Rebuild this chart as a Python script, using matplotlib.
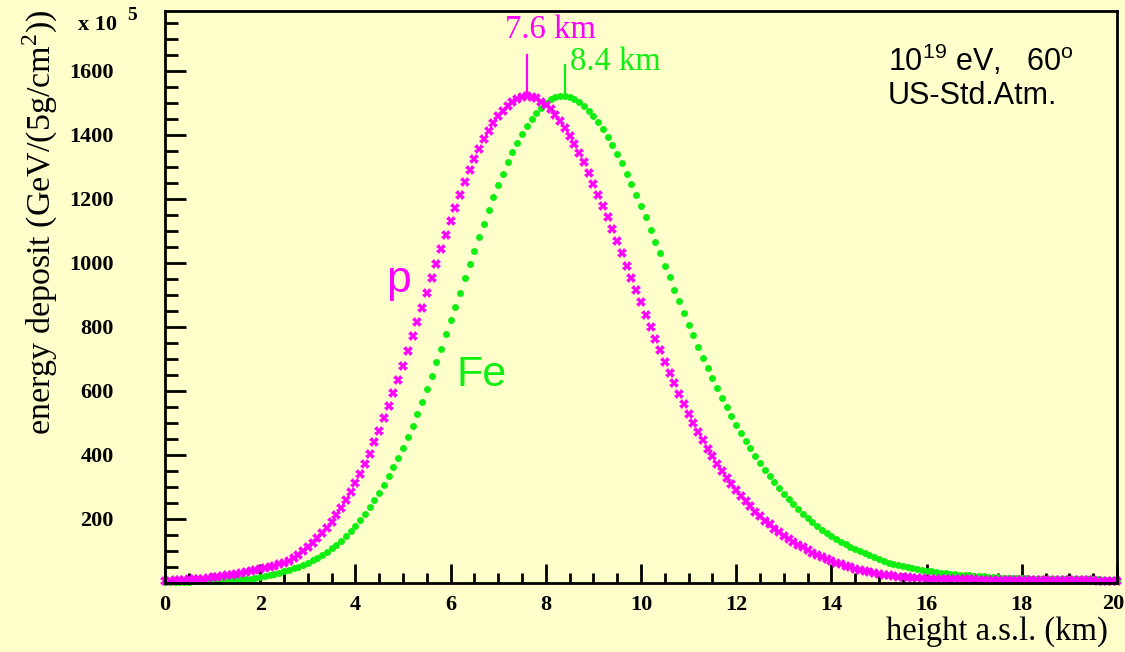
import numpy as np
import matplotlib
matplotlib.use('Agg')
import matplotlib.pyplot as plt
from matplotlib.ticker import MultipleLocator

# heights a.s.l. in km, one point every 100 m
height = np.arange(201) / 10.0

# energy deposit (x 10^5 GeV per 5 g/cm^2), proton primary
dep_p = [6, 7, 8, 9, 10, 11, 12, 13, 14, 16,
         18, 20, 22, 24, 26, 29, 31, 34, 37, 40,
         43, 46, 50, 54, 58, 63, 70, 78, 88, 99,
         111, 124, 139, 155, 172, 191, 212, 235, 259, 284,
         311, 340, 371, 404, 439, 475, 514, 553, 593, 635,
         679, 724, 770, 815, 859, 905, 952, 997, 1042, 1087,
         1131, 1172, 1213, 1251, 1289, 1323, 1355, 1385, 1412, 1436,
         1457, 1475, 1490, 1502, 1511, 1517, 1520, 1519, 1514, 1502,
         1493, 1480, 1461, 1442, 1421, 1397, 1372, 1343, 1313, 1281,
         1247, 1213, 1177, 1142, 1105, 1067, 1030, 991, 953, 915,
         877, 838, 799, 763, 726, 691, 656, 623, 591, 560,
         529, 500, 472, 445, 419, 395, 372, 350, 329, 309,
         290, 272, 255, 239, 223, 209, 195, 183, 170, 159,
         148, 138, 128, 119, 111, 103, 95, 88, 81, 75,
         69, 64, 59, 54, 49, 45, 41, 37, 34, 31,
         28, 26, 24, 22, 20, 19, 18, 17, 16, 15,
         14, 14, 13, 13, 12, 12, 12, 11, 11, 11,
         11, 10, 10, 10, 10, 10, 9, 9, 9, 9,
         9, 9, 9, 9, 8, 8, 8, 8, 8, 8,
         8, 8, 8, 8, 8, 8, 7, 7, 7, 7, 7]

# iron primary
dep_fe = [3, 3, 3, 4, 4, 4, 5, 5, 5, 6,
          6, 7, 7, 8, 9, 10, 11, 12, 14, 16,
          19, 21, 24, 27, 31, 36, 41, 46, 51, 57,
          64, 71, 79, 88, 98, 109, 120, 132, 146, 161,
          178, 196, 215, 236, 258, 281, 306, 333, 361, 391,
          423, 456, 491, 528, 566, 605, 647, 689, 732, 776,
          820, 861, 907, 951, 995, 1037, 1080, 1122, 1164, 1205,
          1242, 1278, 1313, 1345, 1375, 1402, 1426, 1448, 1467, 1483,
          1500, 1510, 1517, 1520, 1521, 1518, 1512, 1502, 1490, 1475,
          1458, 1439, 1417, 1393, 1368, 1339, 1310, 1278, 1246, 1212,
          1177, 1142, 1103, 1066, 1029, 991, 954, 915, 880, 844,
          807, 773, 737, 704, 671, 639, 608, 578, 548, 520,
          493, 468, 443, 420, 396, 375, 354, 334, 314, 296,
          278, 261, 246, 230, 217, 203, 191, 179, 167, 157,
          147, 138, 129, 121, 113, 106, 99, 93, 86, 80,
          75, 70, 64, 60, 56, 52, 49, 46, 43, 40,
          38, 36, 34, 32, 30, 29, 27, 26, 25, 24,
          23, 22, 21, 20, 19, 18, 17, 17, 16, 16,
          15, 15, 14, 14, 14, 13, 13, 13, 12, 12,
          12, 12, 11, 11, 11, 11, 11, 10, 10, 10, 10]

x_ticks = [0, 2, 4, 6, 8, 10, 12, 14, 16, 18, 20]
y_ticks = [200, 400, 600, 800, 1000, 1200, 1400, 1600]

peak_p = 7.6
peak_fe = 8.4

bg = '#ffffcc'
col_p = '#ff00ff'
col_fe = '#11ee11'
serif = 'Liberation Serif'
sans = 'Liberation Sans'

fig = plt.figure(figsize=(11.25, 6.52), dpi=100, facecolor=bg)
ax = fig.add_axes([165/1125, 1 - 583/652, (1117 - 165)/1125, (583 - 11)/652])
ax.set_facecolor(bg)

ax.plot(height, dep_fe, 'o', color=col_fe, markersize=5, markeredgewidth=0, clip_on=False)
ax.plot(height, dep_p, 'X', color=col_p, markersize=7, markeredgewidth=0, clip_on=False)

# peak markers
top_p = max(dep_p)
top_fe = max(dep_fe)
ax.plot([peak_p, peak_p], [top_p, top_p + 128], color=col_p, lw=1.6)
ax.plot([peak_fe, peak_fe], [top_fe, top_fe + 97], color=col_fe, lw=1.6)
ax.text(peak_p + 0.49, 1729, '%.1f km' % peak_p, color=col_p, family=serif,
        fontsize=23.5, ha='center', va='center')
ax.text(peak_fe + 0.1, 1626, '%.1f km' % peak_fe, color=col_fe, family=serif,
        fontsize=23.5, ha='left', va='center')

ax.text(4.9, 945, 'p', color=col_p, family=sans, fontsize=32, ha='center', va='center')
ax.text(6.65, 650, 'Fe', color=col_fe, family=sans, fontsize=31, ha='center', va='center')

ax.text(15.19, 1632, r'10$^{\mathregular{19}}$ eV,   60$^{\mathregular{o}}$', family=sans,
        fontsize=22, ha='left', va='center')
ax.text(15.19, 1522, 'US-Std.Atm.', family=sans, fontsize=22, ha='left', va='center')

ax.set_xlim(0, 20)
ax.set_ylim(0, 1786)
ax.set_xticks(x_ticks)
# the last label is drawn separately, nudged left so it stays on the canvas
ax.set_xticklabels([str(t) for t in x_ticks[:-1]] + [''])
ax.xaxis.set_minor_locator(MultipleLocator(0.5))
ax.set_yticks(y_ticks)
ax.yaxis.set_minor_locator(MultipleLocator(50))
ax.tick_params(which='both', direction='in', top=False, right=False, width=2, colors='black')
ax.tick_params(axis='y', which='major', length=15, pad=37)
ax.tick_params(axis='y', which='minor', length=9)
ax.tick_params(axis='x', which='major', length=14, pad=9)
ax.tick_params(axis='x', which='minor', length=7)
for lab in ax.get_xticklabels() + ax.get_yticklabels():
    lab.set_family(serif)
    lab.set_fontweight('bold')
    lab.set_fontsize(16)
for sp in ax.spines.values():
    sp.set_linewidth(2)

ax.annotate(str(x_ticks[-1]), xy=(x_ticks[-1], 0), xycoords=('data', 'axes fraction'),
            xytext=(-4, -21), textcoords='offset pixels', family=serif,
            fontweight='bold', fontsize=16, ha='center', va='center')

fig.text(117/1125, 1 - 25/652, 'x 10', family=serif, fontweight='bold', fontsize=16,
         ha='right', va='center')
fig.text(127/1125, 1 - 15/652, '5', family=serif, fontweight='bold', fontsize=14,
         ha='left', va='center')

fig.text(40/1125, 1 - 222/652, r'energy deposit (GeV/(5g/cm$^{\mathregular{2}}$))',
         family=serif, fontsize=24.5, rotation=90, ha='center', va='center')
fig.text(1108/1125, 1 - 632/652, 'height a.s.l. (km)', family=serif, fontsize=23.5,
         ha='right', va='center')

plt.savefig('out.png', dpi=100, facecolor=bg)
